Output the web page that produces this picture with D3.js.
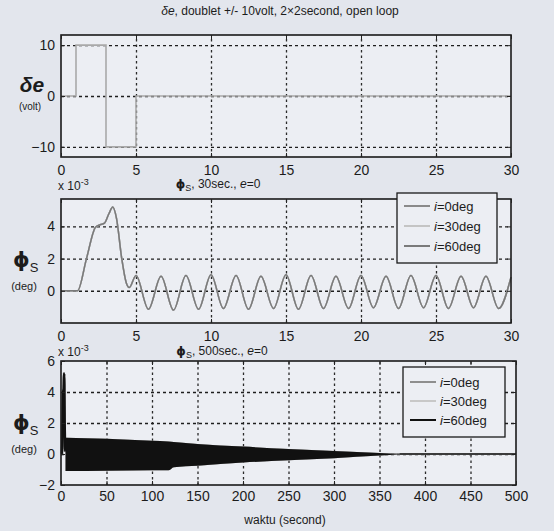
<!DOCTYPE html>
<html>
<head>
<meta charset="utf-8">
<script src="https://cdn.jsdelivr.net/npm/d3@7"></script>
<style>
  html, body { margin: 0; padding: 0; background: #e3e6ed; }
  svg { display: block; }
  text { font-family: 'Liberation Sans Narrow', 'Arial Narrow', 'Liberation Sans', Arial, sans-serif; fill: #1c1c1c; }
</style>
</head>
<body>
<svg id="fig" width="554" height="531"></svg>
<script>
// Elevator doublet command δe (volt) against time (s)
const deTime = [0, 1, 1, 3, 3, 5, 5, 30];
const deVolt = [0, 0, 10, 10, -10, -10, 0, 0];

// φs response over the first 30 s (×10^-3 deg); turning points of the trace
const phiTime = [0, 1.1, 1.7, 2.3, 2.6, 2.9, 3.2, 3.45, 3.7, 4.05, 4.35, 4.55, 5.0,
  5.83, 6.67, 7.5, 8.33, 9.17, 10.0, 10.83, 11.67, 12.5, 13.33, 14.17, 15.0,
  15.83, 16.67, 17.5, 18.33, 19.17, 20.0, 20.83, 21.67, 22.5, 23.33, 24.17, 25.0,
  25.83, 26.67, 27.5, 28.33, 29.17, 30.0];
const phiDeg = [0, 0, 2.0, 3.95, 4.1, 4.2, 4.8, 5.2, 4.5, 2.0, 0.5, 0.2, 0.95,
  -1.15, 0.9, -1.2, 0.95, -1.15, 1.0, -1.1, 0.95, -1.15, 0.9, -1.1, 1.0,
  -1.15, 0.95, -1.1, 0.9, -1.1, 0.95, -1.05, 0.9, -1.1, 0.95, -1.05, 0.95,
  -1.1, 0.9, -1.05, 0.9, -1.1, 0.85];

// φs over 500 s: the fast oscillation fills a band; its upper / lower envelope (×10^-3 deg)
const envTime  = [5, 50, 100, 118, 124, 150, 200, 250, 300, 350, 372];
const envUpper = [1.05, 0.98, 0.85, 0.8, 0.78, 0.65, 0.48, 0.33, 0.2, 0.07, 0.02];
const envLower = [-1.1, -1.08, -1.05, -1.05, -0.85, -0.75, -0.55, -0.4, -0.27, -0.1, -0.02];
const settledTime = [372, 500];
const settledDeg  = [0, 0];

// Orbit inclinations shown in the legends
const inclinations = ["0deg", "30deg", "60deg"];
const colorsShort = ["#8a8a8a", "#c4c4c4", "#7a7a7a"];
const colorsLong  = ["#8e8e8e", "#c8c8c8", "#111111"];

// Tick values
const xTicksShort = [0, 5, 10, 15, 20, 25, 30];
const xTicksLong  = [0, 50, 100, 150, 200, 250, 300, 350, 400, 450, 500];
const yTicksDe    = [-10, 0, 10];
const yTicksShort = [0, 2, 4];
const yTicksLong  = [-2, 0, 2, 4, 6];

const svg = d3.select("#fig");

function makePanel(p) {
  const g = svg.append("g");
  const x = d3.scaleLinear().domain(p.xd).range([p.x0, p.x1]);
  const y = d3.scaleLinear().domain(p.yd).range([p.y1, p.y0]);
  const h = p.y1 - p.y0, w = p.x1 - p.x0;

  g.append("rect").attr("x", p.x0).attr("y", p.y0).attr("width", w).attr("height", h)
    .attr("fill", "#eceef3");

  // dotted grid
  const inner = (t, d) => t.filter(v => v > d[0] && v < d[1]);
  g.append("g").attr("transform", `translate(0,${p.y1})`)
    .call(d3.axisBottom(x).tickValues(inner(p.xt, p.xd)).tickSize(-h).tickFormat(""))
    .call(s => s.select(".domain").remove())
    .selectAll("line").attr("stroke", "#2a2a2a").attr("stroke-width", 1.3).attr("stroke-dasharray", "2.5,3");
  g.append("g").attr("transform", `translate(${p.x0},0)`)
    .call(d3.axisLeft(y).tickValues(inner(p.yt, p.yd)).tickSize(-w).tickFormat(""))
    .call(s => s.select(".domain").remove())
    .selectAll("line").attr("stroke", "#1e1e1e").attr("stroke-width", 1.4).attr("stroke-dasharray", "3,3");

  const layer = g.append("g");

  // tick labels
  g.append("g").attr("transform", `translate(0,${p.y1})`)
    .call(d3.axisBottom(x).tickValues(p.xt).tickSize(0).tickPadding(p.xPad).tickFormat(d3.format("d")))
    .call(s => s.select(".domain").remove())
    .selectAll("text").attr("font-size", 14).attr("font-family", null).attr("fill", "#1c1c1c");
  g.append("g").attr("transform", `translate(${p.x0},0)`)
    .call(d3.axisLeft(y).tickValues(p.yt).tickSize(0).tickPadding(6).tickFormat(d3.format("d")))
    .call(s => s.select(".domain").remove())
    .selectAll("text").attr("font-size", 14).attr("font-family", null).attr("fill", "#1c1c1c");

  // frame and inward ticks
  const axes = g.append("g");
  axes.append("rect").attr("x", p.x0).attr("y", p.y0).attr("width", w).attr("height", h)
    .attr("fill", "none").attr("stroke", "#1a1a1a").attr("stroke-width", 1.6);
  const tickStyle = s => { s.select(".domain").remove(); s.selectAll("line").attr("stroke", "#222"); s.selectAll("text").remove(); };
  axes.append("g").attr("transform", `translate(0,${p.y1})`).call(d3.axisBottom(x).tickValues(p.xt).tickSize(-4)).call(tickStyle);
  axes.append("g").attr("transform", `translate(0,${p.y0})`).call(d3.axisTop(x).tickValues(p.xt).tickSize(-4)).call(tickStyle);
  axes.append("g").attr("transform", `translate(${p.x0},0)`).call(d3.axisLeft(y).tickValues(p.yt).tickSize(-4)).call(tickStyle);
  axes.append("g").attr("transform", `translate(${p.x1},0)`).call(d3.axisRight(y).tickValues(p.yt).tickSize(-4)).call(tickStyle);

  return { g, x, y, layer, axes };
}

function legend(parent, box, colors) {
  const lg = parent.append("g");
  lg.append("rect").attr("x", box.x).attr("y", box.y).attr("width", box.w).attr("height", box.h)
    .attr("fill", "#eceef3").attr("stroke", "#1a1a1a").attr("stroke-width", 1.3);
  inclinations.forEach((name, i) => {
    const cy = box.y + box.first + i * box.step;
    lg.append("line").attr("x1", box.x + 7).attr("x2", box.x + 33).attr("y1", cy).attr("y2", cy)
      .attr("stroke", colors[i]).attr("stroke-width", 2);
    const t = lg.append("text").attr("x", box.x + 37).attr("y", cy + 5).attr("font-size", 13);
    t.append("tspan").attr("font-style", "italic").text("i");
    t.append("tspan").text("=" + name);
  });
}

function phiLabel(cx, base) {
  const t = svg.append("text").attr("x", cx).attr("y", base);
  t.append("tspan").attr("font-family", "'DejaVu Sans', sans-serif").attr("font-weight", "bold").attr("font-size", 21).text("ϕ");
  t.append("tspan").attr("font-family", "'Liberation Sans', Arial, sans-serif").attr("font-size", 13).attr("dy", 5).text("S");
}

// ---- panel 1: δe command ----
const p1 = makePanel({ x0: 61, x1: 511, y0: 35, y1: 157, xd: [0, 30], yd: [-12, 12], xt: xTicksShort, yt: yTicksDe, xPad: 8 });
p1.layer.append("path")
  .datum(deTime.map((t, i) => [t, deVolt[i]]))
  .attr("d", d3.line().x(d => p1.x(d[0])).y(d => p1.y(d[1])))
  .attr("fill", "none").attr("stroke", "#a9a9a9").attr("stroke-width", 1.6);

// ---- panel 2: φs, 30 s ----
const p2 = makePanel({ x0: 61, x1: 511, y0: 199, y1: 323, xd: [0, 30], yd: [-2, 5.7], xt: xTicksShort, yt: yTicksShort, xPad: 8 });
const phiPts = phiTime.map((t, i) => [t, phiDeg[i]]);
inclinations.forEach((_, i) => {
  p2.layer.append("path").datum(phiPts)
    .attr("d", d3.line().x(d => p2.x(d[0])).y(d => p2.y(d[1])).curve(d3.curveMonotoneX))
    .attr("fill", "none").attr("stroke", colorsShort[i]).attr("stroke-width", 1.5);
});
legend(svg, { x: 397, y: 193, w: 100, h: 70, first: 13, step: 20 }, colorsShort);

// ---- panel 3: φs, 500 s ----
const p3 = makePanel({ x0: 61, x1: 516, y0: 361, y1: 485, xd: [0, 500], yd: [-2, 6], xt: xTicksLong, yt: yTicksLong, xPad: 6 });
const envPts = envTime.map((t, i) => ({ t, hi: envUpper[i], lo: envLower[i] }));
const startPts = phiPts.filter(d => d[0] <= 5);
inclinations.forEach((_, i) => {
  p3.layer.append("path").datum(startPts)
    .attr("d", d3.line().x(d => p3.x(d[0])).y(d => p3.y(d[1])).curve(d3.curveMonotoneX))
    .attr("fill", "none").attr("stroke", colorsLong[i]).attr("stroke-width", 2.5);
  p3.layer.append("path").datum(envPts)
    .attr("d", d3.area().x(d => p3.x(d.t)).y0(d => p3.y(d.lo)).y1(d => p3.y(d.hi)).curve(d3.curveMonotoneX))
    .attr("fill", colorsLong[i]);
  p3.layer.append("path").datum(settledTime.map((t, k) => [t, settledDeg[k]]))
    .attr("d", d3.line().x(d => p3.x(d[0])).y(d => p3.y(d[1])))
    .attr("fill", "none").attr("stroke", colorsLong[i]).attr("stroke-width", 1.5);
});
legend(svg, { x: 403, y: 367, w: 102, h: 70, first: 15, step: 19 }, colorsLong);

// ---- titles ----
const t1 = svg.append("text").attr("x", 280).attr("y", 15).attr("text-anchor", "middle").attr("font-size", 12);
t1.append("tspan").attr("font-style", "italic").text("δe");
t1.append("tspan").text(", doublet +/- 10volt, 2×2second, open loop");

function phiTitle(cx, base, dur) {
  const t = svg.append("text").attr("x", cx).attr("y", base).attr("text-anchor", "middle").attr("font-size", 12);
  t.append("tspan").attr("font-weight", "bold").attr("font-family", "'DejaVu Sans', sans-serif").attr("font-size", 12).text("ϕ");
  t.append("tspan").attr("font-size", 9).attr("dy", 3).text("S");
  t.append("tspan").attr("dy", -3).text(", " + dur + ", ");
  t.append("tspan").attr("font-style", "italic").text("e");
  t.append("tspan").text("=0");
}
phiTitle(218, 188, "30sec.");
phiTitle(222, 355, "500sec.");

// scale-factor notes above panels 2 and 3
function expNote(xx, base) {
  const t = svg.append("text").attr("x", xx).attr("y", base).attr("font-size", 12);
  t.append("tspan").text("x 10");
  t.append("tspan").attr("font-size", 9).attr("dy", -5).text("-3");
}
expNote(58, 190);
expNote(58, 356);

// ---- y-axis labels ----
svg.append("text").attr("x", 32).attr("y", 92).attr("text-anchor", "middle")
  .attr("font-family", "'Liberation Sans', Arial, sans-serif").attr("font-weight", "bold").attr("font-style", "italic")
  .attr("font-size", 21).text("δe");
svg.append("text").attr("x", 30).attr("y", 110).attr("text-anchor", "middle").attr("font-size", 10).text("(volt)");

phiLabel(13, 267);
svg.append("text").attr("x", 24).attr("y", 290).attr("text-anchor", "middle").attr("font-size", 11).text("(deg)");

phiLabel(13, 430);
svg.append("text").attr("x", 24).attr("y", 453).attr("text-anchor", "middle").attr("font-size", 11).text("(deg)");

// ---- x-axis label ----
svg.append("text").attr("x", 285).attr("y", 524).attr("text-anchor", "middle").attr("font-size", 12).text("waktu (second)");
</script>
</body>
</html>
